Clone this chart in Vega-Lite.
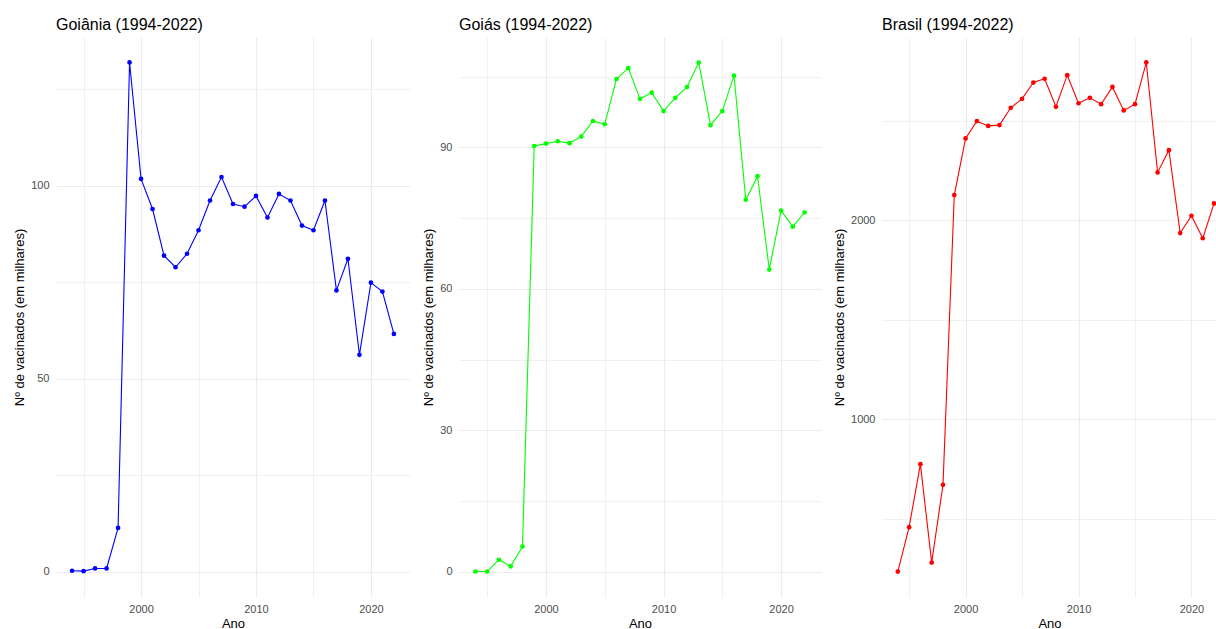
{
  "$schema": "https://vega.github.io/schema/vega-lite/v6.json",
  "background": "white",
  "padding": {"left": 13, "top": 17, "right": 0, "bottom": 0},
  "config": {
    "font": "Liberation Sans",
    "view": {"stroke": null},
    "axis": {
      "domain": false,
      "ticks": false,
      "tickSize": 0,
      "gridColor": "#EBEBEB",
      "labelColor": "#4D4D4D",
      "labelFont": "Liberation Sans",
      "labelFontSize": 11,
      "titleFont": "Liberation Sans",
      "titleFontSize": 13,
      "titleFontWeight": "normal",
      "titleColor": "#000000"
    },
    "axisY": {"labelPadding": 7, "titlePadding": 4},
    "axisX": {"labelPadding": 6, "titlePadding": 3},
    "title": {
      "font": "Liberation Sans",
      "fontSize": 16,
      "fontWeight": "normal",
      "color": "#000000",
      "anchor": "start",
      "frame": "group",
      "baseline": "bottom",
      "offset": 4
    }
  },
  "data": {
    "values": [
      {"local": "Goiânia", "ano": 1994, "valor": 0.2},
      {"local": "Goiânia", "ano": 1995, "valor": 0.1},
      {"local": "Goiânia", "ano": 1996, "valor": 0.8},
      {"local": "Goiânia", "ano": 1997, "valor": 0.8},
      {"local": "Goiânia", "ano": 1998, "valor": 11.3},
      {"local": "Goiânia", "ano": 1999, "valor": 132.0},
      {"local": "Goiânia", "ano": 2000, "valor": 101.8},
      {"local": "Goiânia", "ano": 2001, "valor": 94.0},
      {"local": "Goiânia", "ano": 2002, "valor": 81.9},
      {"local": "Goiânia", "ano": 2003, "valor": 78.9},
      {"local": "Goiânia", "ano": 2004, "valor": 82.4},
      {"local": "Goiânia", "ano": 2005, "valor": 88.5},
      {"local": "Goiânia", "ano": 2006, "valor": 96.2},
      {"local": "Goiânia", "ano": 2007, "valor": 102.3},
      {"local": "Goiânia", "ano": 2008, "valor": 95.3},
      {"local": "Goiânia", "ano": 2009, "valor": 94.6},
      {"local": "Goiânia", "ano": 2010, "valor": 97.4},
      {"local": "Goiânia", "ano": 2011, "valor": 91.8},
      {"local": "Goiânia", "ano": 2012, "valor": 97.9},
      {"local": "Goiânia", "ano": 2013, "valor": 96.2},
      {"local": "Goiânia", "ano": 2014, "valor": 89.7},
      {"local": "Goiânia", "ano": 2015, "valor": 88.5},
      {"local": "Goiânia", "ano": 2016, "valor": 96.2},
      {"local": "Goiânia", "ano": 2017, "valor": 72.9},
      {"local": "Goiânia", "ano": 2018, "valor": 81.1},
      {"local": "Goiânia", "ano": 2019, "valor": 56.2},
      {"local": "Goiânia", "ano": 2020, "valor": 74.9},
      {"local": "Goiânia", "ano": 2021, "valor": 72.6},
      {"local": "Goiânia", "ano": 2022, "valor": 61.6},
      {"local": "Goiás", "ano": 1994, "valor": 0.1},
      {"local": "Goiás", "ano": 1995, "valor": 0.1},
      {"local": "Goiás", "ano": 1996, "valor": 2.6},
      {"local": "Goiás", "ano": 1997, "valor": 1.2},
      {"local": "Goiás", "ano": 1998, "valor": 5.4},
      {"local": "Goiás", "ano": 1999, "valor": 90.3},
      {"local": "Goiás", "ano": 2000, "valor": 90.8},
      {"local": "Goiás", "ano": 2001, "valor": 91.3},
      {"local": "Goiás", "ano": 2002, "valor": 90.9},
      {"local": "Goiás", "ano": 2003, "valor": 92.3},
      {"local": "Goiás", "ano": 2004, "valor": 95.6},
      {"local": "Goiás", "ano": 2005, "valor": 94.9},
      {"local": "Goiás", "ano": 2006, "valor": 104.5},
      {"local": "Goiás", "ano": 2007, "valor": 106.8},
      {"local": "Goiás", "ano": 2008, "valor": 100.3},
      {"local": "Goiás", "ano": 2009, "valor": 101.6},
      {"local": "Goiás", "ano": 2010, "valor": 97.7},
      {"local": "Goiás", "ano": 2011, "valor": 100.5},
      {"local": "Goiás", "ano": 2012, "valor": 102.8},
      {"local": "Goiás", "ano": 2013, "valor": 108.0},
      {"local": "Goiás", "ano": 2014, "valor": 94.7},
      {"local": "Goiás", "ano": 2015, "valor": 97.7},
      {"local": "Goiás", "ano": 2016, "valor": 105.2},
      {"local": "Goiás", "ano": 2017, "valor": 78.9},
      {"local": "Goiás", "ano": 2018, "valor": 83.9},
      {"local": "Goiás", "ano": 2019, "valor": 64.1},
      {"local": "Goiás", "ano": 2020, "valor": 76.6},
      {"local": "Goiás", "ano": 2021, "valor": 73.2},
      {"local": "Goiás", "ano": 2022, "valor": 76.2},
      {"local": "Brasil", "ano": 1994, "valor": 234},
      {"local": "Brasil", "ano": 1995, "valor": 457},
      {"local": "Brasil", "ano": 1996, "valor": 774},
      {"local": "Brasil", "ano": 1997, "valor": 279},
      {"local": "Brasil", "ano": 1998, "valor": 670},
      {"local": "Brasil", "ano": 1999, "valor": 2127},
      {"local": "Brasil", "ano": 2000, "valor": 2412},
      {"local": "Brasil", "ano": 2001, "valor": 2499},
      {"local": "Brasil", "ano": 2002, "valor": 2475},
      {"local": "Brasil", "ano": 2003, "valor": 2479},
      {"local": "Brasil", "ano": 2004, "valor": 2566},
      {"local": "Brasil", "ano": 2005, "valor": 2611},
      {"local": "Brasil", "ano": 2006, "valor": 2693},
      {"local": "Brasil", "ano": 2007, "valor": 2712},
      {"local": "Brasil", "ano": 2008, "valor": 2571},
      {"local": "Brasil", "ano": 2009, "valor": 2730},
      {"local": "Brasil", "ano": 2010, "valor": 2589},
      {"local": "Brasil", "ano": 2011, "valor": 2616},
      {"local": "Brasil", "ano": 2012, "valor": 2584},
      {"local": "Brasil", "ano": 2013, "valor": 2671},
      {"local": "Brasil", "ano": 2014, "valor": 2553},
      {"local": "Brasil", "ano": 2015, "valor": 2584},
      {"local": "Brasil", "ano": 2016, "valor": 2794},
      {"local": "Brasil", "ano": 2017, "valor": 2241},
      {"local": "Brasil", "ano": 2018, "valor": 2353},
      {"local": "Brasil", "ano": 2019, "valor": 1936},
      {"local": "Brasil", "ano": 2020, "valor": 2023},
      {"local": "Brasil", "ano": 2021, "valor": 1910},
      {"local": "Brasil", "ano": 2022, "valor": 2085}
    ]
  },
  "bounds": "flush",
  "spacing": 49,
  "resolve": {"scale": {"x": "independent", "y": "independent"}},
  "hconcat": [
    {
      "width": 354,
      "height": 560,
      "title": {"text": "Goiânia (1994-2022)"},
      "transform": [{"filter": "datum.local === 'Goiânia'"}],
      "encoding": {
        "x": {
          "field": "ano", "type": "quantitative",
          "scale": {"domain": [1992.6, 2023.4], "nice": false, "zero": false},
          "axis": {
            "title": "Ano", "format": "d",
            "values": [1995, 2000, 2005, 2010, 2015, 2020],
            "labelExpr": "datum.value % 10 === 0 ? datum.label : ''",
            "gridWidth": {"condition": {"test": "datum.value % 10 === 0", "value": 1.1}, "value": 0.7}
          }
        },
        "y": {
          "field": "valor", "type": "quantitative",
          "scale": {"domain": [-6.6, 138.6], "nice": false, "zero": false},
          "axis": {
            "title": "Nº de vacinados (em milhares)", "format": "d",
            "values": [0, 25, 50, 75, 100, 125],
            "labelExpr": "datum.value % 50 === 0 ? datum.label : ''",
            "gridWidth": {"condition": {"test": "datum.value % 50 === 0", "value": 1.1}, "value": 0.7}
          }
        }
      },
      "layer": [
        {"mark": {"type": "line", "color": "#0000FF", "strokeWidth": 1.1}},
        {"mark": {"type": "point", "filled": true, "color": "#0000FF", "size": 22, "opacity": 1}}
      ]
    },
    {
      "bounds": "flush",
      "spacing": 61,
      "resolve": {"scale": {"x": "independent", "y": "independent"}},
      "hconcat": [
        {
          "width": 362,
          "height": 560,
          "title": {"text": "Goiás (1994-2022)"},
          "transform": [{"filter": "datum.local === 'Goiás'"}],
          "encoding": {
            "x": {
              "field": "ano", "type": "quantitative",
              "scale": {"domain": [1992.6, 2023.4], "nice": false, "zero": false},
              "axis": {
                "title": "Ano", "format": "d",
                "values": [1995, 2000, 2005, 2010, 2015, 2020],
                "labelExpr": "datum.value % 10 === 0 ? datum.label : ''",
                "gridWidth": {"condition": {"test": "datum.value % 10 === 0", "value": 1.1}, "value": 0.7}
              }
            },
            "y": {
              "field": "valor", "type": "quantitative",
              "scale": {"domain": [-5.3, 113.4], "nice": false, "zero": false},
              "axis": {
                "title": "Nº de vacinados (em milhares)", "format": "d",
                "values": [0, 15, 30, 45, 60, 75, 90, 105],
                "labelExpr": "datum.value % 30 === 0 ? datum.label : ''",
                "gridWidth": {"condition": {"test": "datum.value % 30 === 0", "value": 1.1}, "value": 0.7}
              }
            }
          },
          "layer": [
            {"mark": {"type": "line", "color": "#00FF00", "strokeWidth": 1.1}},
            {"mark": {"type": "point", "filled": true, "color": "#00FF00", "size": 22, "opacity": 1}}
          ]
        },
        {
          "width": 335,
          "height": 560,
          "title": {"text": "Brasil (1994-2022)"},
          "transform": [{"filter": "datum.local === 'Brasil'"}],
          "encoding": {
            "x": {
              "field": "ano", "type": "quantitative",
              "scale": {"domain": [1992.6, 2022.26], "nice": false, "zero": false},
              "axis": {
                "title": "Ano", "format": "d",
                "values": [1995, 2000, 2005, 2010, 2015, 2020],
                "labelExpr": "datum.value % 10 === 0 ? datum.label : ''",
                "gridWidth": {"condition": {"test": "datum.value % 10 === 0", "value": 1.1}, "value": 0.7}
              }
            },
            "y": {
              "field": "valor", "type": "quantitative",
              "scale": {"domain": [106, 2922], "nice": false, "zero": false},
              "axis": {
                "title": "Nº de vacinados (em milhares)", "format": "d",
                "values": [500, 1000, 1500, 2000, 2500],
                "labelExpr": "datum.value % 1000 === 0 ? datum.label : ''",
                "gridWidth": {"condition": {"test": "datum.value % 1000 === 0", "value": 1.1}, "value": 0.7}
              }
            }
          },
          "layer": [
            {"mark": {"type": "line", "color": "#FF0000", "strokeWidth": 1.1}},
            {"mark": {"type": "point", "filled": true, "color": "#FF0000", "size": 22, "opacity": 1}}
          ]
        }
      ]
    }
  ]
}
